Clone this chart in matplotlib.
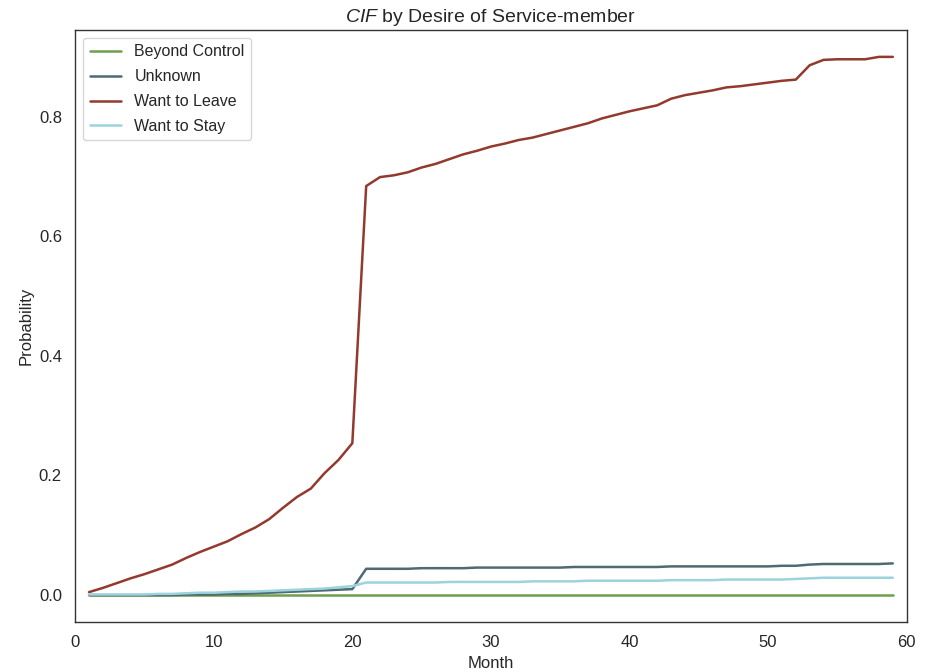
import matplotlib
matplotlib.use("Agg")
import matplotlib.pyplot as plt
import seaborn as sns

sns.set_theme(style="white")
plt.rcParams['font.family'] = ['Liberation Sans', 'DejaVu Sans']
plt.rcParams['mathtext.fontset'] = 'custom'
plt.rcParams['mathtext.it'] = 'Liberation Sans:italic'
plt.rcParams['mathtext.rm'] = 'Liberation Sans'

months = list(range(1, 60))

beyond_control = [0.0] * 59

unknown = [0.000, 0.000, 0.000, 0.000, 0.000, 0.000, 0.000, 0.001, 0.001, 0.001,
           0.002, 0.002, 0.003, 0.004, 0.005, 0.006, 0.007, 0.008, 0.009, 0.010,
           0.044, 0.044, 0.044, 0.044, 0.045, 0.045, 0.045, 0.045, 0.046, 0.046,
           0.046, 0.046, 0.046, 0.046, 0.046, 0.047, 0.047, 0.047, 0.047, 0.047,
           0.047, 0.047, 0.048, 0.048, 0.048, 0.048, 0.048, 0.048, 0.048, 0.048,
           0.049, 0.049, 0.051, 0.052, 0.052, 0.052, 0.052, 0.052, 0.053]

want_to_leave = [0.005, 0.012, 0.020, 0.028, 0.035, 0.043, 0.051, 0.062, 0.072, 0.081,
                 0.090, 0.102, 0.113, 0.127, 0.146, 0.164, 0.178, 0.204, 0.226, 0.254,
                 0.684, 0.699, 0.702, 0.707, 0.715, 0.721, 0.729, 0.737, 0.743, 0.750,
                 0.755, 0.761, 0.765, 0.771, 0.777, 0.783, 0.789, 0.797, 0.803, 0.809,
                 0.814, 0.819, 0.830, 0.836, 0.840, 0.844, 0.849, 0.851, 0.854, 0.857,
                 0.860, 0.862, 0.886, 0.895, 0.896, 0.896, 0.896, 0.900, 0.900]

want_to_stay = [0.001, 0.001, 0.001, 0.001, 0.001, 0.002, 0.002, 0.003, 0.004, 0.004,
                0.005, 0.006, 0.006, 0.007, 0.008, 0.009, 0.010, 0.011, 0.013, 0.015,
                0.021, 0.021, 0.021, 0.021, 0.021, 0.021, 0.022, 0.022, 0.022, 0.022,
                0.022, 0.022, 0.023, 0.023, 0.023, 0.023, 0.024, 0.024, 0.024, 0.024,
                0.024, 0.024, 0.025, 0.025, 0.025, 0.025, 0.026, 0.026, 0.026, 0.026,
                0.026, 0.027, 0.028, 0.029, 0.029, 0.029, 0.029, 0.029, 0.029]

labels = ["Beyond Control", "Unknown", "Want to Leave", "Want to Stay"]
series = [beyond_control, unknown, want_to_leave, want_to_stay]
colors = ["#6e9f4e", "#4f6b72", "#93392e", "#9dd3dc"]

fig = plt.figure(figsize=(9.28, 6.72), dpi=100)
ax = fig.add_axes([0.081, 0.0744, 0.896, 0.881])
for lab, vals, c in zip(labels, series, colors):
    ax.plot(months, vals, color=c, lw=1.8, label=lab)

ax.set_xlim(0, 60)
ax.set_yticks([0.0, 0.2, 0.4, 0.6, 0.8])
ax.tick_params(labelsize=12)
ax.set_xlabel("Month", fontsize=12, labelpad=4)
ax.set_ylabel("Probability", fontsize=12)
ax.set_title("$CIF$ by Desire of Service-member", fontsize=14)
for s in ax.spines.values():
    s.set_color("#333333")
    s.set_linewidth(1.0)
ax.legend(loc="upper left", fontsize=11.5, labelspacing=0.62, frameon=True)

fig.savefig("out.png", dpi=100)
